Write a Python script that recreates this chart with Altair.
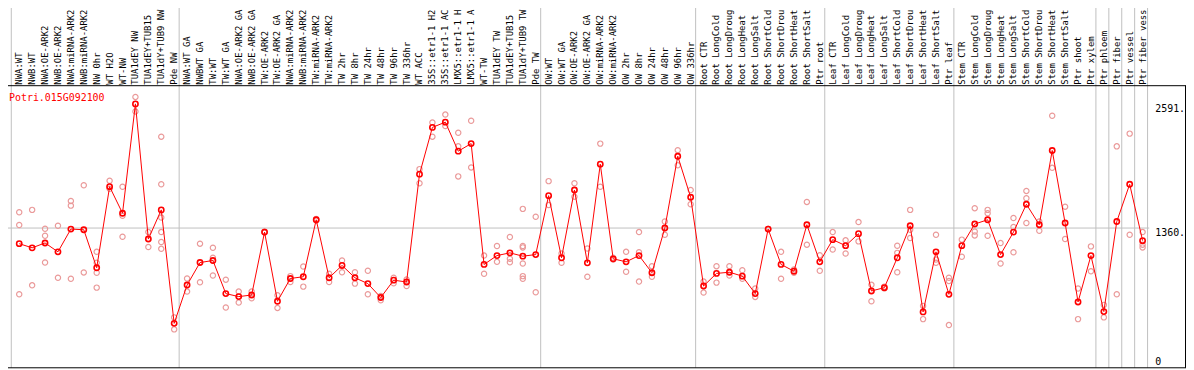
import altair as alt
import pandas as pd

gene = "Potri.015G092100"

labels = [
    "NWA:WT", "NWB:WT", "NWA:OE-ARK2", "NWB:OE-ARK2", "NWA:miRNA-ARK2", "NWB:miRNA-ARK2",
    "NW 0hr", "WT H2O", "WT-NW", "TUA1dEY NW", "TUA1dEY+TUB15", "TUA1dY+TUB9 NW", "Pde NW",
    "NWA:WT GA", "NWBWT GA", "TW:WT", "TW:WT GA", "NWA:OE-ARK2 GA", "NWB:OE-ARK2 GA",
    "TW:OE-ARK2", "TW:OE-ARK2 GA", "NWA:miRNA-ARK2", "NWB:miRNA-ARK2", "TW:miRNA-ARK2",
    "TW:miRNA-ARK2", "TW 2hr", "TW 8hr", "TW 24hr", "TW 48hr", "TW 96hr", "TW 336hr", "WT ACC",
    "35S::etr1-1 H2", "35S::etr1-1 AC", "LMX5::etr1-1 H", "LMX5::etr1-1 A", "WT-TW",
    "TUA1dEY TW", "TUA1dEY+TUB15", "TUA1dY+TUB9 TW", "Pde TW",
    "OW:WT", "OW:WT GA", "OW:OE-ARK2", "OW:OE-ARK2 GA", "OW:miRNA-ARK2", "OW:miRNA-ARK2",
    "OW 2hr", "OW 8hr", "OW 24hr", "OW 48hr", "OW 96hr", "OW 336hr",
    "Root CTR", "Root LongCold", "Root LongDroug", "Root LongHeat", "Root LongSalt",
    "Root ShortCold", "Root ShortDrou", "Root ShortHeat", "Root ShortSalt", "Ptr root",
    "Leaf CTR", "Leaf LongCold", "Leaf LongDroug", "Leaf LongHeat", "Leaf LongSalt",
    "Leaf ShortCold", "Leaf ShortDrou", "Leaf ShortHeat", "Leaf ShortSalt", "Ptr leaf",
    "Stem CTR", "Stem LongCold", "Stem LongDroug", "Stem LongHeat", "Stem LongSalt",
    "Stem ShortCold", "Stem ShortDrou", "Stem ShortHeat", "Stem ShortSalt", "Ptr shoot",
    "Ptr xylem", "Ptr phloem", "Ptr fiber", "Ptr vessel", "Ptr fiber vess",
]

means = [
    1205, 1164, 1212, 1124, 1350, 1343, 966, 1770, 1507, 2591, 1251, 1540, 415,
    795, 1018, 1038, 710, 680, 696, 1320, 634, 860, 877, 1442, 867, 989, 867, 809,
    671, 843, 825, 1894, 2358, 2410, 2122, 2197, 999, 1087, 1114, 1081, 1097,
    1681, 1065, 1737, 1015, 1993, 1055, 1025, 1087, 917, 1360, 2072, 1665,
    785, 910, 922, 883, 710, 1350, 999, 932, 1393, 1025,
    1245, 1185, 1304, 736, 769, 1065, 1383, 528, 1124, 703,
    1185, 1400, 1442, 1097, 1320, 1596, 1393, 2129, 1410, 627, 1087,
    532, 1425, 1794, 1235,
]

reps = [
    [1517, 1390, 703], [1540, 792], [1353, 1284, 1018], [1383, 867], [1629, 1582, 857],
    [1784, 920], [1124, 1015, 917, 769], [1829, 1750], [1770, 1482, 1274], [2660, 2515],
    [1320, 1172], [2266, 1794, 1465, 1320, 1222, 1154], [474, 355],
    [860, 730], [1205, 822], [1164, 1065, 890], [848, 572], [730, 621], [730, 664],
    [1326, 1316], [693, 568], [883, 825], [979, 779], [1449, 1435], [907, 825],
    [1038, 922], [922, 809], [936, 703], [686, 644], [867, 812], [850, 785],
    [1944, 1804], [2407, 2266], [2485, 2371], [2305, 2170, 1872], [2424, 1961],
    [1087, 907], [1182, 1025], [1271, 1055, 1021], [1550, 1182, 1168, 1008, 883, 857],
    [1472, 723],
    [1825, 1589], [1107, 1015], [1804, 1671], [1157, 877], [2197, 1770], [1065, 1048],
    [1124, 927], [1320, 1120, 829], [982, 877], [1425, 1294], [2132, 1983], [1737, 1596],
    [829, 720], [982, 819], [982, 890], [942, 857], [760, 677], [1350, 1350],
    [1124, 857], [949, 917], [1619, 1195], [1090, 936],
    [1320, 1147], [1238, 1107], [1419, 1228], [797, 634], [779, 760],
    [1185, 1114, 922], [1540, 1343, 1261], [588, 457], [1294, 1048, 1015],
    [867, 835, 398],
    [1245, 1075], [1557, 1326, 1287], [1540, 1507, 1284], [1212, 1008],
    [1459, 1370, 1120], [1728, 1655, 1410], [1425, 1333], [2473, 1957],
    [1572, 1251], [760, 457], [1178, 932],
    [598, 474], [2170, 703], [2296, 1294], [1320, 1195, 1168],
]

# group boundaries: a divider falls after these column indices (-1 = left edge)
group_ends = [-1, 12, 40, 52, 62, 72, 83, 84, 85, 86, 87]

grid_values = [1360]
tick_values = [2591, 1360, 0]
tick_labels = ["2591.", "1360.", "0"]

df_mean = pd.DataFrame({"idx": list(range(len(labels))), "label": labels, "mean": means})
rep_rows = [(i, v) for i, rs in enumerate(reps) for v in rs]
df_rep = pd.DataFrame(rep_rows, columns=["idx", "value"])
df_sep = pd.DataFrame({"after": group_ends})
df_grid = pd.DataFrame({"v": grid_values})
df_ticks = pd.DataFrame({"v": tick_values, "t": tick_labels})
df_title = pd.DataFrame({"t": [gene]})

W, H = 1194, 370
xscale = alt.Scale(domain=[-19.3 / 13, (W - 19.3) / 13], nice=False, zero=False)
yscale = alt.Scale(domain=[-35.45, 3608.4], nice=False, zero=False)
FONT = "DejaVu Sans Mono"
GRAY = "#c0c0c0"

base = alt.Chart(df_mean)

seps = alt.Chart(df_sep).transform_calculate(pos="datum.after + 0.385").mark_rule(
    color=GRAY, strokeWidth=1
).encode(
    x=alt.X("pos:Q", scale=xscale, axis=None),
    y=alt.value(0), y2=alt.value(369),
)

grid = alt.Chart(df_grid).mark_rule(color=GRAY, strokeWidth=1).encode(
    y=alt.Y("v:Q", scale=yscale, axis=None),
    x=alt.value(1), x2=alt.value(1157),
)

hline = alt.Chart(df_grid).mark_rule(color="black", strokeWidth=1).encode(
    y=alt.value(85), x=alt.value(0), x2=alt.value(1194)
)
bline = alt.Chart(df_grid).mark_rule(color="black", strokeWidth=1).encode(
    y=alt.value(369), x=alt.value(0), x2=alt.value(1194)
)
lline = alt.Chart(df_grid).mark_rule(color="black", strokeWidth=1).encode(
    x=alt.value(1.5), y=alt.value(85), y2=alt.value(369)
)
rline = alt.Chart(df_grid).mark_rule(color="black", strokeWidth=1).encode(
    x=alt.value(1193.5), y=alt.value(85), y2=alt.value(369)
)

header = base.mark_text(
    angle=270, align="left", baseline="middle", font=FONT, fontSize=9, color="black"
).encode(
    x=alt.X("idx:Q", scale=xscale, axis=None),
    y=alt.value(84),
    text="label:N",
)

rep_pts = alt.Chart(df_rep).mark_point(
    shape="circle", filled=False, size=28, strokeWidth=1.2, color="#ea9a9a", opacity=1
).encode(
    x=alt.X("idx:Q", scale=xscale, axis=None),
    y=alt.Y("value:Q", scale=yscale, axis=None),
)

line = base.mark_line(color="#ff0000", strokeWidth=1).encode(
    x=alt.X("idx:Q", scale=xscale, axis=None),
    y=alt.Y("mean:Q", scale=yscale, axis=None),
)

mean_pts = base.mark_point(
    shape="circle", filled=False, size=28, strokeWidth=1.6, color="#ff0000", opacity=1
).encode(
    x=alt.X("idx:Q", scale=xscale, axis=None),
    y=alt.Y("mean:Q", scale=yscale, axis=None),
)

title = alt.Chart(df_title).mark_text(
    align="left", baseline="alphabetic", font=FONT, fontSize=10, color="#ff0000"
).encode(x=alt.value(9), y=alt.value(100), text="t:N")

ticks_top = alt.Chart(df_ticks).transform_filter("datum.v > 0").mark_text(
    align="left", baseline="top", font=FONT, fontSize=10, color="black"
).encode(
    x=alt.value(1163),
    y=alt.Y("v:Q", scale=yscale, axis=None),
    text="t:N",
)
ticks_zero = alt.Chart(df_ticks).transform_filter("datum.v <= 0").mark_text(
    align="left", baseline="alphabetic", font=FONT, fontSize=10, color="black"
).encode(
    x=alt.value(1163),
    y=alt.Y("v:Q", scale=yscale, axis=None),
    text="t:N",
)

chart = alt.layer(
    seps, grid, hline, bline, lline, rline, header, rep_pts, line, mean_pts, title,
    ticks_top, ticks_zero,
).properties(
    width=W, height=H,
    autosize=alt.AutoSizeParams(type="none"),
    padding={"left": -8, "top": -8, "right": 0, "bottom": 0},
    background="white",
).configure_view(stroke=None)

chart.save("out.html", embed_options={"renderer": "svg", "actions": False})
